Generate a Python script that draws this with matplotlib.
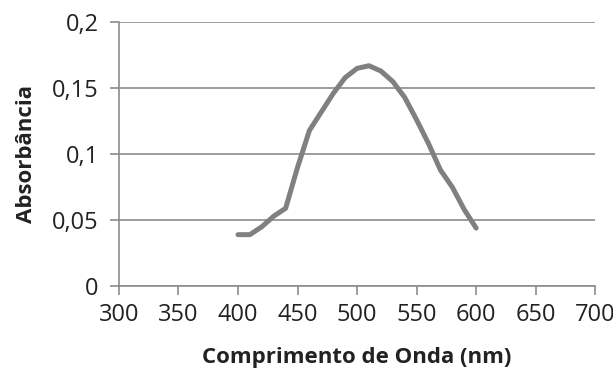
import matplotlib
matplotlib.use("Agg")
import matplotlib.pyplot as plt

# Wavelength (nm) and absorbance
wavelength = [400, 410, 420, 430, 440, 450, 460, 470, 480, 490, 500,
              510, 520, 530, 540, 550, 560, 570, 580, 590, 600]
absorbance = [0.039, 0.039, 0.045, 0.053, 0.059, 0.090, 0.118, 0.132, 0.146, 0.158, 0.165,
              0.167, 0.163, 0.155, 0.143, 0.126, 0.108, 0.088, 0.075, 0.058, 0.044]

x_ticks = [300, 350, 400, 450, 500, 550, 600, 650, 700]
y_ticks = [0, 0.05, 0.1, 0.15, 0.2]
y_labels = ["0", "0,05", "0,1", "0,15", "0,2"]

plt.rcParams['font.family'] = ['Open Sans', 'DejaVu Sans']

fig = plt.figure(figsize=(6.13, 3.76), dpi=100)
ax = fig.add_axes([0.194, 0.239, 0.777, 0.702])

grid_col = "#8c8c8c"
ax.plot(wavelength, absorbance, color="#808080", linewidth=3.6, solid_capstyle="round")

ax.set_xlim(300, 700)
ax.set_ylim(0, 0.2)
ax.set_xticks(x_ticks)
ax.set_yticks(y_ticks)
ax.set_yticklabels(y_labels)
ax.yaxis.grid(True, color=grid_col, linewidth=1.2)
ax.set_axisbelow(True)

for side in ["top", "right"]:
    ax.spines[side].set_visible(False)
for side in ["left", "bottom"]:
    ax.spines[side].set_color(grid_col)
    ax.spines[side].set_linewidth(1.2)

ax.tick_params(axis="both", direction="out", length=6.5, width=1.2, color=grid_col,
               labelsize=17, labelcolor="#222222")
ax.tick_params(axis="x", pad=6)
ax.tick_params(axis="y", pad=8)

ax.set_xlabel("Comprimento de Onda (nm)", fontsize=16, fontweight="bold", color="#222222", labelpad=14)
ax.set_ylabel("Absorbância", fontsize=16, fontweight="bold", color="#222222", labelpad=11)

fig.savefig("out.png", dpi=100)
